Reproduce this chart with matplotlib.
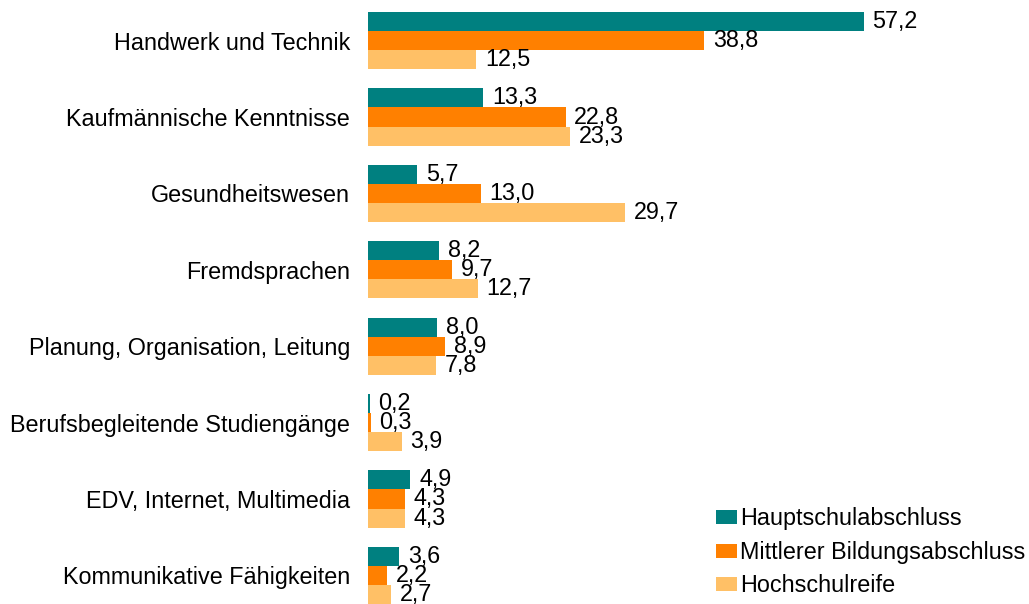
import matplotlib.pyplot as plt
import numpy as np

plt.rcParams['font.family'] = ['Liberation Sans', 'DejaVu Sans']

categories = ['Handwerk und Technik', 'Kaufmännische Kenntnisse', 'Gesundheitswesen',
              'Fremdsprachen', 'Planung, Organisation, Leitung',
              'Berufsbegleitende Studiengänge', 'EDV, Internet, Multimedia',
              'Kommunikative Fähigkeiten']
series_names = ['Hauptschulabschluss', 'Mittlerer Bildungsabschluss', 'Hochschulreife']
hauptschule = [57.2, 13.3, 5.7, 8.2, 8.0, 0.2, 4.9, 3.6]
mittlere = [38.8, 22.8, 13.0, 9.7, 8.9, 0.3, 4.3, 2.2]
hochschule = [12.5, 23.3, 29.7, 12.7, 7.8, 3.9, 4.3, 2.7]
colors = ['#008080', '#FF8000', '#FFC066']

fs = 16.8

fig = plt.figure(figsize=(10.29, 6.04), dpi=100)
ax = fig.add_axes([368 / 1029, 0, 650 / 1029, 592 / 604])

y = np.arange(len(categories))
h = 0.25
for k, (vals, name, col) in enumerate(zip([hauptschule, mittlere, hochschule], series_names, colors)):
    pos = y + (k - 1) * h
    ax.barh(pos, vals, height=h, color=col, label=name)
    for p, v in zip(pos, vals):
        ax.text(v + 1.0, p, f'{v:.1f}'.replace('.', ','), va='center', ha='left', fontsize=fs)

ax.set_xlim(0, 75)
ax.set_ylim(7.375, -0.375)
ax.set_yticks(y)
ax.set_yticklabels(categories, fontsize=fs)
ax.tick_params(axis='y', length=0, pad=13)
ax.set_xticks([])
for s in ax.spines.values():
    s.set_visible(False)

ax.legend(loc='lower left', bbox_to_anchor=(695 / 1029, -0.024), bbox_transform=fig.transFigure,
          frameon=False, fontsize=fs, handlelength=0.9, handleheight=0.52,
          handletextpad=0.15, labelspacing=0.45)

fig.savefig('out.png', dpi=100)
